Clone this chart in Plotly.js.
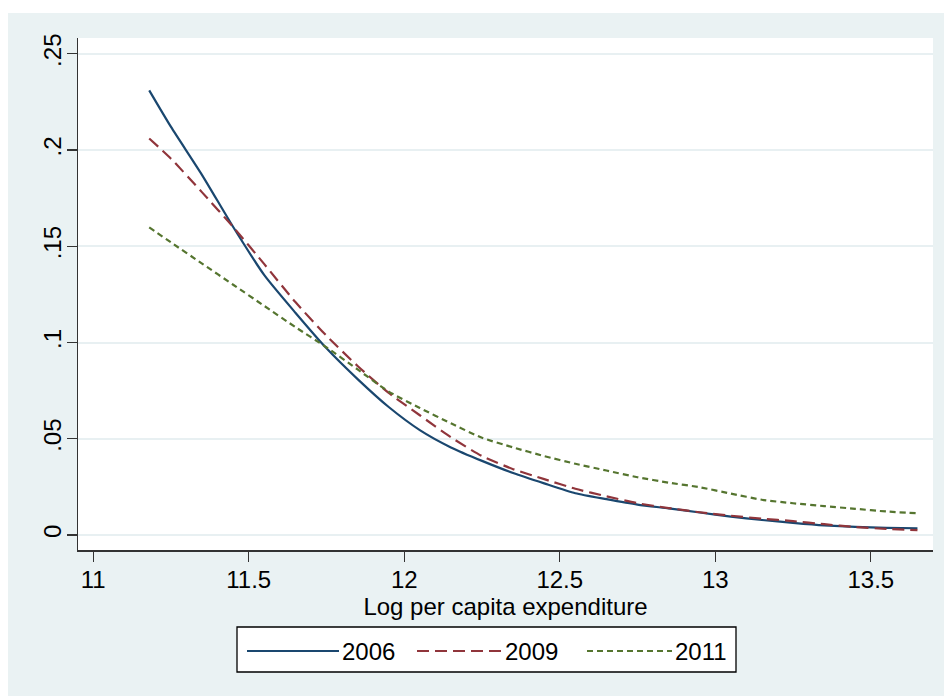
<!DOCTYPE html>
<html>
<head>
<meta charset="utf-8">
<script src="https://cdn.plot.ly/plotly-3.0.1.min.js"></script>
<style>
  html, body { margin: 0; padding: 0; background: #ffffff; width: 944px; height: 696px; overflow: hidden; }
  #plot { position: absolute; left: 8px; top: 13px; width: 936px; height: 683px; }
</style>
</head>
<body>
<div id="plot"></div>
<script>
// ---- data ----
const logExp = [11.18, 11.25, 11.35, 11.45, 11.55, 11.65, 11.75, 11.85, 11.95, 12.05,
                12.15, 12.25, 12.35, 12.45, 12.55, 12.65, 12.75, 12.85, 12.95, 13.05,
                13.15, 13.25, 13.35, 13.45, 13.55, 13.65];
const y2006 = [0.231, 0.212, 0.187, 0.160, 0.135, 0.1155, 0.097, 0.081, 0.0665, 0.0545,
               0.0455, 0.0385, 0.0322, 0.0268, 0.0217, 0.0186, 0.0158, 0.0138, 0.0117, 0.0095,
               0.0078, 0.0063, 0.0050, 0.0042, 0.0037, 0.0035];
const y2009 = [0.206, 0.1955, 0.178, 0.160, 0.1407, 0.121, 0.1035, 0.0878, 0.0738, 0.0622,
               0.0508, 0.0410, 0.0342, 0.0290, 0.0240, 0.0201, 0.0165, 0.0140, 0.0118, 0.0100,
               0.0085, 0.0072, 0.0056, 0.0041, 0.0032, 0.0025];
const y2011 = [0.1598, 0.152, 0.141, 0.130, 0.119, 0.108, 0.0975, 0.086, 0.0745, 0.066,
               0.058, 0.0505, 0.0455, 0.041, 0.037, 0.0335, 0.030, 0.0272, 0.0248, 0.0215,
               0.0183, 0.0165, 0.0150, 0.0136, 0.0122, 0.0113];
const seriesNames = ["2006", "2009", "2011"];
const xTickVals = [11, 11.5, 12, 12.5, 13, 13.5];
const xTickText = ["11", "11.5", "12", "12.5", "13", "13.5"];
const yTickVals = [0, 0.05, 0.1, 0.15, 0.2, 0.25];
const yTickText = ["0", ".05", ".1", ".15", ".2", ".25"];
const xTitle = "Log per capita expenditure";

// ---- styles ----
const colors = ["#1A476F", "#90353B", "#55752F"];
const dashes = ["solid", "12px,6px", "6px,4px"];
const FONT = 'Arial, "Liberation Sans", sans-serif';
const FS = 24;
const W = 936, H = 683;
const M = { l: 70, r: 11, t: 25, b: 146 };
const PW = W - M.l - M.r, PH = H - M.t - M.b;
const px = x => (x - M.l) / PW;          // div px -> paper x
const py = y => 1 - (y - M.t) / PH;      // div px -> paper y

const ys = [y2006, y2009, y2011];
const traces = ys.map((yv, i) => ({
  type: "scatter", mode: "lines", x: logExp, y: yv, name: seriesNames[i],
  line: { color: colors[i], width: 2.2, dash: dashes[i], shape: "spline", smoothing: 0.6 },
  showlegend: false, hoverinfo: "skip"
}));

// custom legend (Stata style: long line samples)
const legBox = { x0: 229, x1: 728, y0: 614, y1: 659 };
const legLines = [[239, 331], [409, 494], [579, 664]];
const legY = 638;
const shapes = [{
  type: "rect", xref: "paper", yref: "paper",
  x0: px(legBox.x0), x1: px(legBox.x1), y0: py(legBox.y0), y1: py(legBox.y1),
  line: { color: "#000000", width: 1.3 }, fillcolor: "#ffffff", layer: "above"
}];
const annotations = [];
legLines.forEach((l, i) => {
  shapes.push({
    type: "line", xref: "paper", yref: "paper",
    x0: px(l[0]), x1: px(l[1]), y0: py(legY), y1: py(legY),
    line: { color: colors[i], width: 2.2, dash: dashes[i] }, layer: "above"
  });
  annotations.push({
    xref: "paper", yref: "paper", x: px(l[1] + 1), y: py(legY),
    xanchor: "left", yanchor: "middle", showarrow: false,
    text: seriesNames[i], font: { family: FONT, size: FS, color: "#000000" }
  });
});

const layout = {
  width: W, height: H,
  margin: M,
  paper_bgcolor: "#EAF2F3",
  plot_bgcolor: "#ffffff",
  font: { family: FONT, size: FS, color: "#000000" },
  showlegend: false,
  xaxis: {
    range: [10.951, 13.700], tickmode: "array", tickvals: xTickVals, ticktext: xTickText,
    showgrid: false, zeroline: false, showline: true, linecolor: "#333333", linewidth: 1.5,
    ticks: "outside", ticklen: 10, tickwidth: 1.3, tickcolor: "#333333",
    ticklabelstandoff: -2,
    tickfont: { family: FONT, size: FS, color: "#000000" },
    title: { text: xTitle, font: { family: FONT, size: FS, color: "#000000" }, standoff: 0 },
    fixedrange: true
  },
  yaxis: {
    range: [-0.0078, 0.2582], tickmode: "array", tickvals: yTickVals, ticktext: yTickText,
    showgrid: true, gridcolor: "#E8F0F2", gridwidth: 2, zeroline: false,
    showline: true, linecolor: "#333333", linewidth: 1.5,
    ticks: "outside", ticklen: 10, tickwidth: 1.3, tickcolor: "#333333",
    tickangle: -90, ticklabelstandoff: -4,
    tickfont: { family: FONT, size: FS, color: "#000000" },
    fixedrange: true
  },
  shapes: shapes,
  annotations: annotations
};

Plotly.newPlot("plot", traces, layout, { staticPlot: true, displayModeBar: false });
</script>
</body>
</html>
